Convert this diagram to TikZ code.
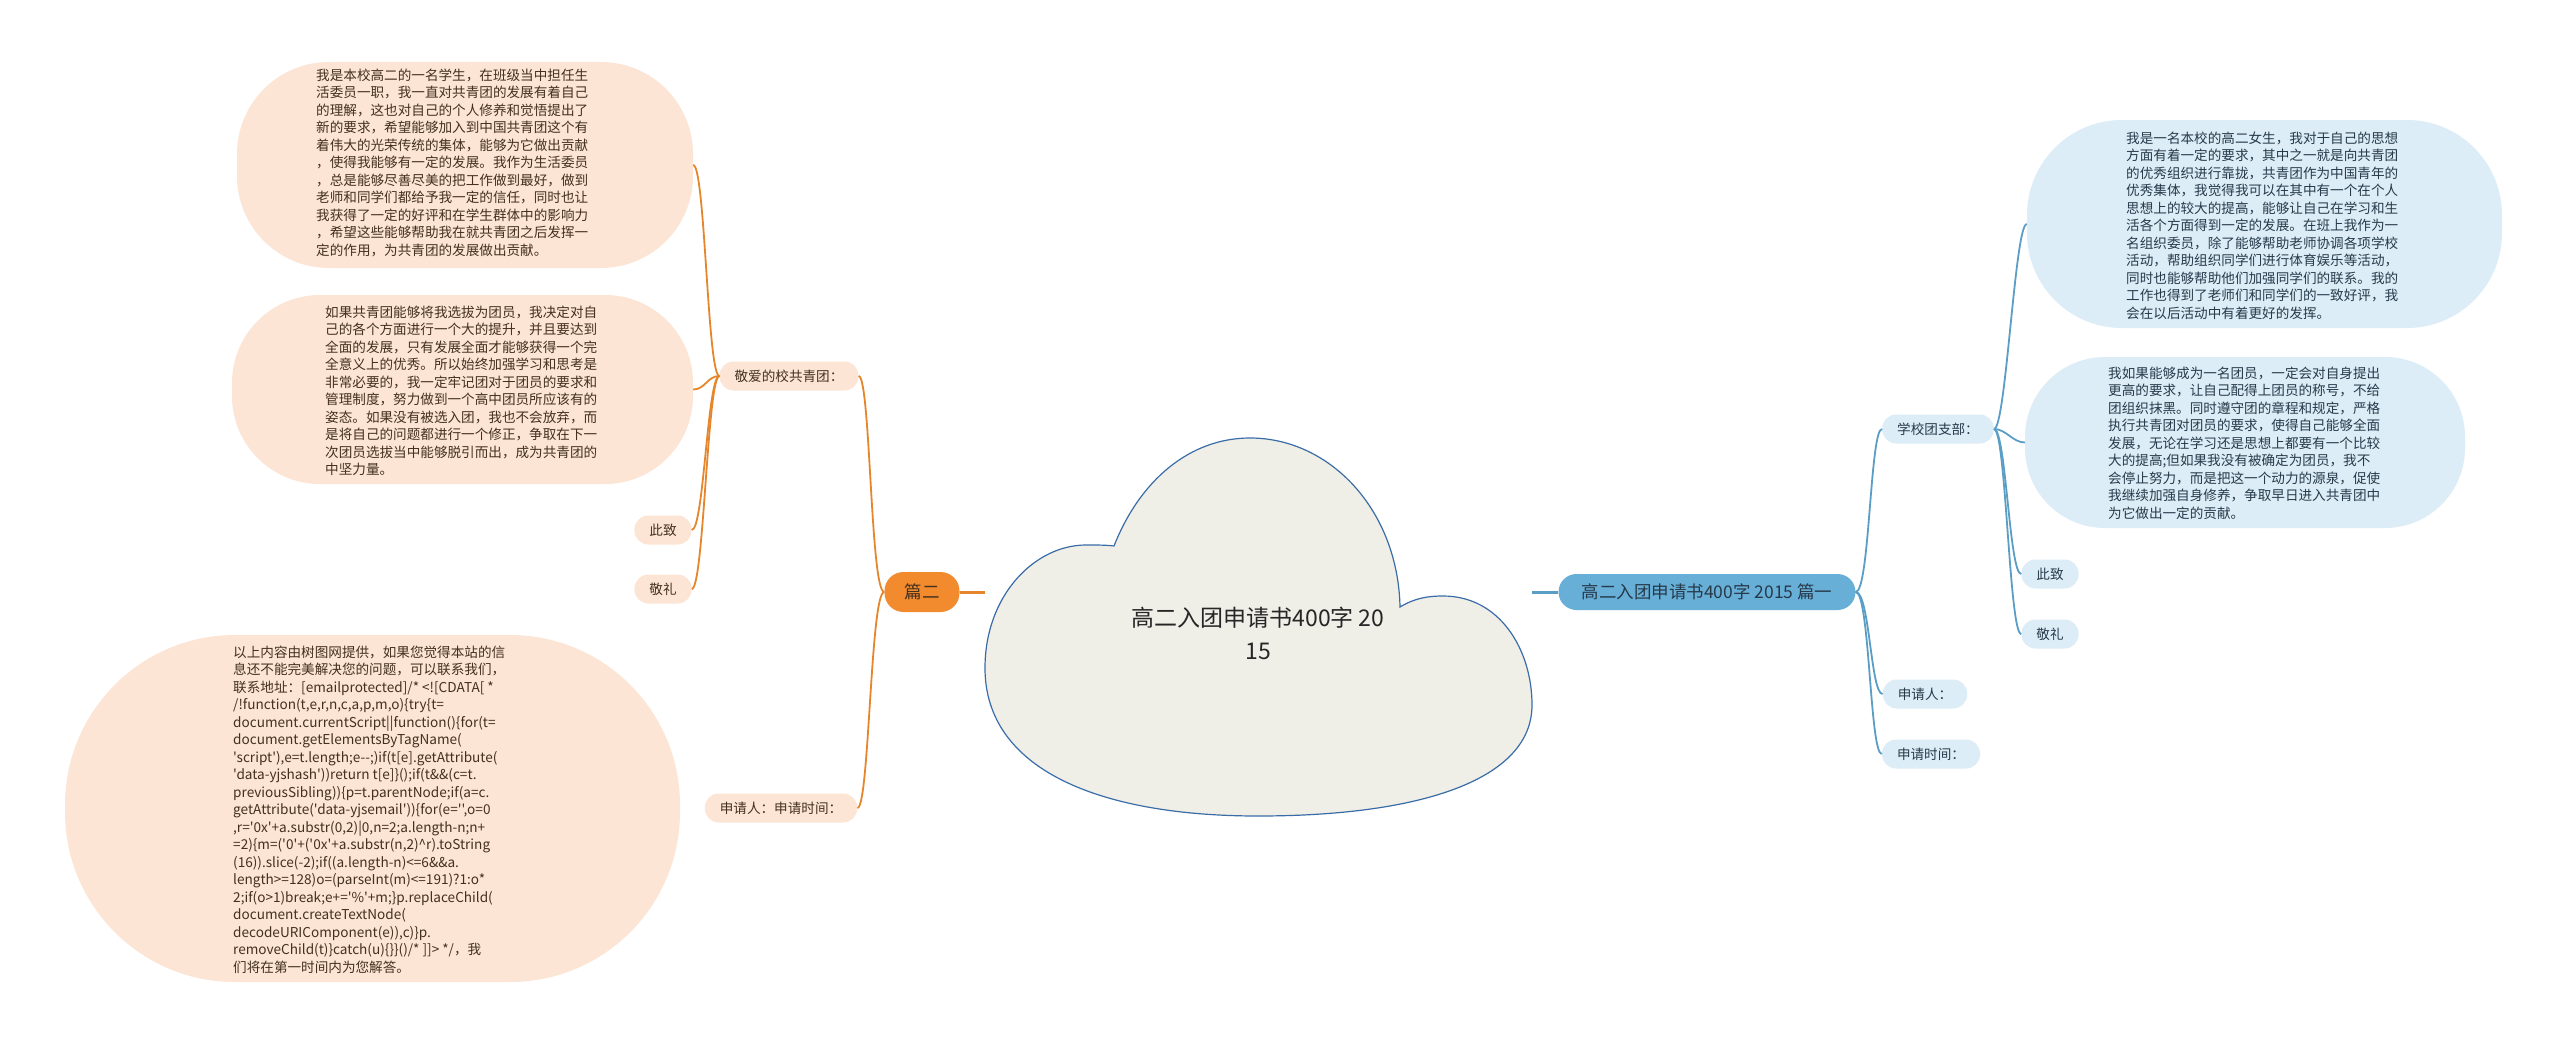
\documentclass[tikz,border=0pt]{standalone}
\usepackage{fontspec}
\setmainfont{Noto Sans CJK SC}
\setmonofont{Noto Sans CJK SC}
\definecolor{peach}{HTML}{FCE5D4}
\definecolor{orangeN}{HTML}{F28B2E}
\definecolor{lineO}{HTML}{E6862C}
\definecolor{textO}{HTML}{43301F}
\definecolor{lblue}{HTML}{DDEDF7}
\definecolor{blueN}{HTML}{68AFD8}
\definecolor{lineB}{HTML}{5B9EC5}
\definecolor{textB}{HTML}{263A4A}
\definecolor{cloudF}{HTML}{EFEEE7}
\definecolor{cloudD}{HTML}{3A6DA8}
\tikzset{
  fs/.style={font=\fontsize{13.6}{17.5}\selectfont},
  ltag/.style={fill=peach, text=textO, rounded corners=14, minimum height=29, inner xsep=15, inner ysep=0, fs},
  rtag/.style={fill=lblue, text=textB, rounded corners=14, minimum height=29, inner xsep=15, inner ysep=0, fs},
  lbub/.style={fill=peach, inner sep=0},
  rbub/.style={fill=lblue, inner sep=0},
  ltxt/.style={text=textO, align=left, inner sep=0, anchor=west, fs},
  rtxt/.style={text=textB, align=left, inner sep=0, anchor=west, fs},
  oline/.style={draw=lineO, line width=1.8},
  bline/.style={draw=lineB, line width=1.8},
}
\begin{document}
\begin{tikzpicture}[x=1pt,y=-1pt]
\useasboundingbox (0,0) rectangle (2560,1041);
\fill[white] (0,0) rectangle (2560,1041);

% cloud
\path[fill=cloudF, draw=cloudD, line width=1.2]
  (1114,546) .. controls (1140,480) and (1190,438) .. (1250,438)
  .. controls (1330,438) and (1398,510) .. (1400,607)
  .. controls (1415,598) and (1428,596) .. (1443,596)
  .. controls (1500,596) and (1532,650) .. (1532,705)
  .. controls (1532,780) and (1420,816) .. (1258,816)
  .. controls (1100,816) and (985,770) .. (985,668)
  .. controls (985,595) and (1035,545) .. (1086,545)
  .. controls (1098,545) and (1106,545) .. (1114,546) -- cycle;
\node[align=center, text=black!85, font=\fontsize{23}{33}\selectfont, inner sep=0] (center) at (1258,633) {高二入团申请书400字 20\\15};
\coordinate (cloudL) at (985,592);
\coordinate (cloudR) at (1532,592);

% left branch
\node[fill=orangeN, text=textO, rounded corners=19, minimum width=75, minimum height=40, inner sep=0, font=\fontsize{17.5}{20}\selectfont] (p2) at (922,592) {篇二};
\node[ltag] (jA) at (789,376) {敬爱的校共青团：};
\node[ltag] (czL) at (663,530) {此致};
\node[ltag] (jlL) at (663,589) {敬礼};
\node[ltag] (sqL) at (781,808) {申请人：申请时间：};

\node[lbub, minimum width=456, minimum height=206, rounded corners=92] (bA) at (465,165) {};
\node[ltxt] (tA) at (316,162.5) {我是本校高二的一名学生，在班级当中担任生\\活委员一职，我一直对共青团的发展有着自己\\的理解，这也对自己的个人修养和觉悟提出了\\新的要求，希望能够加入到中国共青团这个有\\着伟大的光荣传统的集体，能够为它做出贡献\\，使得我能够有一定的发展。我作为生活委员\\，总是能够尽善尽美的把工作做到最好，做到\\老师和同学们都给予我一定的信任，同时也让\\我获得了一定的好评和在学生群体中的影响力\\，希望这些能够帮助我在就共青团之后发挥一\\定的作用，为共青团的发展做出贡献。};

\node[lbub, minimum width=461, minimum height=189, rounded corners=88] (bB) at (462.5,389.5) {};
\node[ltxt] (tB) at (325,391) {如果共青团能够将我选拔为团员，我决定对自\\己的各个方面进行一个大的提升，并且要达到\\全面的发展，只有发展全面才能够获得一个完\\全意义上的优秀。所以始终加强学习和思考是\\非常必要的，我一定牢记团对于团员的要求和\\管理制度，努力做到一个高中团员所应该有的\\姿态。如果没有被选入团，我也不会放弃，而\\是将自己的问题都进行一个修正，争取在下一\\次团员选拔当中能够脱引而出，成为共青团的\\中坚力量。};

\node[lbub, minimum width=615, minimum height=347, rounded corners=170] (bC) at (372.5,808.5) {};
\node[ltxt, font=\ttfamily\fontsize{13.6}{17.5}\selectfont] (tC) at (233,809.5) {以上内容由树图网提供，如果您觉得本站的信\\息还不能完美解决您的问题，可以联系我们，\\联系地址：[emailprotected]/* <![CDATA[ *\\/!function(t,e,r,n,c,a,p,m,o)\{try\{t=\\document.currentScript||function()\{for(t=\\document.getElementsByTagName(\\'script'),e=t.length;e--;)if(t[e].getAttribute(\\'data-yjshash'))return t[e]\}();if(t\&\&(c=t.\\previousSibling))\{p=t.parentNode;if(a=c.\\getAttribute('data-yjsemail'))\{for(e='',o=0\\,r='0x'+a.substr(0,2)|0,n=2;a.length-n;n+\\=2)\{m=('0'+('0x'+a.substr(n,2)\textasciicircum r).toString\\(16)).slice(-2);if((a.length-n)<=6\&\&a.\\length>=128)o=(parseInt(m)<=191)?1:o*\\2;if(o>1)break;e+='\%'+m;\}p.replaceChild(\\document.createTextNode(\\decodeURIComponent(e)),c)\}p.\\removeChild(t)\}catch(u)\{\}\}()/* ]]> */，我\\们将在第一时间内为您解答。};

\draw[oline, line width=3] (p2.east) -- (cloudL);
\draw[oline] (p2.west) .. controls +(-14,0) and +(12,0) .. (jA.east);
\draw[oline] (p2.west) .. controls +(-14,0) and +(12,0) .. (sqL.east);
\draw[oline] (jA.west) .. controls +(-12,0) and +(12,0) .. (bA.east);
\draw[oline] (jA.west) .. controls +(-12,0) and +(12,0) .. (bB.east);
\draw[oline] (jA.west) .. controls +(-12,0) and +(12,0) .. (czL.east);
\draw[oline] (jA.west) .. controls +(-12,0) and +(12,0) .. (jlL.east);

% right branch
\node[fill=blueN, text=textB, rounded corners=18, minimum width=297, minimum height=36, inner sep=0, font=\fontsize{17.5}{20}\selectfont] (p1) at (1707,592) {高二入团申请书400字 2015 篇一};
\node[rtag] (xx) at (1938,429) {学校团支部：};
\node[rtag] (sqR) at (1925,694) {申请人：};
\node[rtag] (sjR) at (1931,754) {申请时间：};
\node[rtag] (czR) at (2050,574) {此致};
\node[rtag] (jlR) at (2050,634) {敬礼};

\node[rbub, minimum width=475, minimum height=208, rounded corners=95] (bD) at (2264.5,224) {};
\node[rtxt] (tD) at (2126,225.5) {我是一名本校的高二女生，我对于自己的思想\\方面有着一定的要求，其中之一就是向共青团\\的优秀组织进行靠拢，共青团作为中国青年的\\优秀集体，我觉得我可以在其中有一个在个人\\思想上的较大的提高，能够让自己在学习和生\\活各个方面得到一定的发展。在班上我作为一\\名组织委员，除了能够帮助老师协调各项学校\\活动，帮助组织同学们进行体育娱乐等活动，\\同时也能够帮助他们加强同学们的联系。我的\\工作也得到了老师们和同学们的一致好评，我\\会在以后活动中有着更好的发挥。};

\node[rbub, minimum width=440, minimum height=171, rounded corners=80] (bE) at (2245,442.5) {};
\node[rtxt] (tE) at (2108,443) {我如果能够成为一名团员，一定会对自身提出\\更高的要求，让自己配得上团员的称号，不给\\团组织抹黑。同时遵守团的章程和规定，严格\\执行共青团对团员的要求，使得自己能够全面\\发展，无论在学习还是思想上都要有一个比较\\大的提高;但如果我没有被确定为团员，我不\\会停止努力，而是把这一个动力的源泉，促使\\我继续加强自身修养，争取早日进入共青团中\\为它做出一定的贡献。};

\draw[bline, line width=3] (cloudR) -- (p1.west);
\draw[bline] (p1.east) .. controls +(14,0) and +(-12,0) .. (xx.west);
\draw[bline] (p1.east) .. controls +(14,0) and +(-12,0) .. (sqR.west);
\draw[bline] (p1.east) .. controls +(14,0) and +(-12,0) .. (sjR.west);
\draw[bline] (xx.east) .. controls +(12,0) and +(-12,0) .. (bD.west);
\draw[bline] (xx.east) .. controls +(12,0) and +(-12,0) .. (bE.west);
\draw[bline] (xx.east) .. controls +(12,0) and +(-12,0) .. (czR.west);
\draw[bline] (xx.east) .. controls +(12,0) and +(-12,0) .. (jlR.west);
\end{tikzpicture}
\end{document}
